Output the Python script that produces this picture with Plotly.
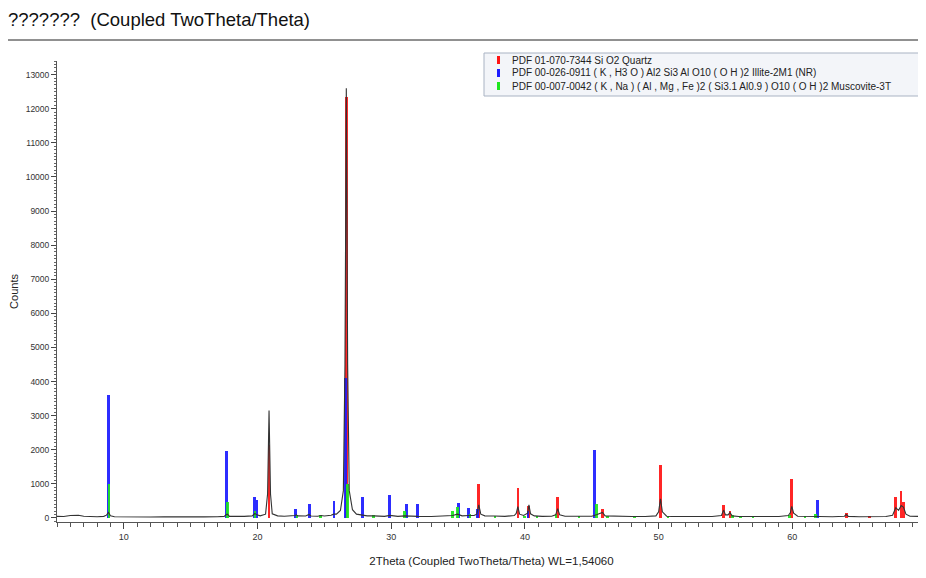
import plotly.graph_objects as go

# ---------------- data ----------------
scan_2theta = [5.0, 5.5, 6.0, 6.3, 6.6, 7.0, 7.5, 8.0, 8.5, 8.7, 8.85, 9.0, 9.3, 10.0, 11.0, 12.0,
               13.0, 14.0, 15.0, 16.0, 17.0, 17.5, 17.65, 17.75, 17.9, 18.5, 19.0, 19.6, 19.8,
               19.95, 20.2, 20.6, 20.75, 20.86, 20.97, 21.1, 21.5, 22.0, 22.5, 22.8, 22.9, 23.0,
               23.6, 23.85, 24.0, 24.5, 24.75, 25.0, 25.5, 25.7, 25.9, 26.2, 26.42, 26.54, 26.64,
               26.74, 26.86, 27.1, 27.4, 27.8, 28.2, 28.7, 29.2, 29.5, 29.9, 30.5, 31.0, 31.5,
               32.0, 33.0, 34.0, 34.6, 34.95, 35.3, 35.8, 36.2, 36.4, 36.55, 36.7, 37.0, 37.7,
               38.5, 39.2, 39.35, 39.47, 39.6, 39.9, 40.2, 40.3, 40.42, 40.7, 41.3, 42.0, 42.3,
               42.45, 42.6, 43.0, 44.0, 45.0, 45.35, 45.8, 46.0, 47.0, 48.0, 49.0, 49.8, 50.0,
               50.14, 50.28, 50.6, 51.0, 52.0, 53.0, 54.0, 54.7, 54.87, 55.0, 55.2, 55.33, 55.5,
               56.0, 57.0, 58.0, 59.0, 59.7, 59.85, 59.96, 60.1, 60.4, 61.0, 62.0, 63.0, 63.9,
               64.03, 64.2, 65.0, 66.0, 67.0, 67.5, 67.74, 67.95, 68.14, 68.31, 68.5, 68.8,
               69.5, 70.0]
scan_counts = [45, 40, 70, 85, 80, 50, 40, 35, 45, 80, 160, 60, 35, 30, 30, 25,
               30, 25, 30, 30, 35, 45, 90, 110, 45, 40, 45, 60, 130,
               90, 60, 110, 700, 3150, 700, 120, 60, 50, 50, 70, 90, 60,
               55, 100, 55, 50, 70, 55, 80, 110, 110, 220, 800, 4500, 12600,
               4500, 800, 240, 110, 80, 60, 60, 50, 45, 75, 45, 60, 45,
               45, 40, 45, 70, 110, 60, 70, 70, 110, 380, 110, 60, 55,
               45, 70, 130, 330, 110, 70, 140, 380, 120, 60, 45, 50, 90,
               270, 90, 50, 45, 50, 90, 160, 60, 40, 40, 40, 60, 180,
               560, 180, 50, 40, 35, 35, 40, 70, 230, 90, 90, 160, 60,
               40, 35, 35, 40, 70, 150, 340, 140, 50, 40, 40, 35, 50,
               100, 45, 35, 35, 40, 80, 300, 220, 360, 320, 110, 50,
               40, 40]

quartz_2theta = [20.86, 26.64, 36.54, 39.47, 40.29, 42.45, 45.79, 50.14, 54.87, 55.33,
                 59.96, 64.03, 65.79, 67.74, 68.14, 68.31]
quartz_counts = [2150, 12350, 980, 880, 340, 600, 270, 1560, 390, 200,
                 1130, 150, 40, 600, 800, 480]

illite_2theta = [8.85, 17.7, 19.78, 19.93, 22.85, 23.88, 25.72, 26.6, 27.83, 29.87,
                 31.15, 31.95, 35.05, 35.76, 36.44, 40.23, 45.2, 61.89]
illite_counts = [3600, 1950, 600, 530, 270, 420, 500, 4100, 620, 680,
                 420, 420, 430, 280, 270, 200, 2000, 540]

musc_2theta = [8.88, 17.77, 19.8, 22.95, 24.7, 26.72, 28.65, 30.97, 34.6, 34.95, 35.9,
               37.77, 39.95, 40.9, 42.32, 44.05, 45.36, 46.2, 48.2, 50.7, 55.53, 56.13,
               57.05, 59.77, 60.95, 61.74]
musc_counts = [1000, 480, 200, 100, 80, 1000, 100, 190, 200, 320, 110,
               70, 70, 60, 110, 50, 400, 70, 40, 40, 80, 40,
               40, 80, 60, 110]

legend_labels = [
    "PDF 01-070-7344 Si O2 Quartz",
    "PDF 00-026-0911 ( K , H3 O ) Al2 Si3 Al O10 ( O H )2 Illite-2M1 (NR)",
    "PDF 00-007-0042 ( K , Na ) ( Al , Mg , Fe )2 ( Si3.1 Al0.9 ) O10 ( O H )2 Muscovite-3T",
]
chart_title = "???????  (Coupled TwoTheta/Theta)"
x_title = "2Theta (Coupled TwoTheta/Theta) WL=1,54060"
y_title = "Counts"

# ---------------- styling ----------------
# the page body has an 8px margin: the figure starts at (8, 8) of the window
OFF = 8
WIN_W, WIN_H = 926, 578
W, H = WIN_W - OFF, WIN_H - OFF
# plot area in window pixels: x 57..926, y 61..522
PL, PR, PT, PB = 57, 926, 61, 522
L, R, T, B = PL - OFF, WIN_W - PR, PT - OFF, (WIN_H - PB)
PW, PH = W - L - R, H - T - B
FONT = "Liberation Sans, Arial, sans-serif"
RED, BLUE, GREEN = "#ff1414", "#1c1cff", "#1ee61e"


def px(xw):  # window x pixel -> paper
    return (xw - PL) / PW


def py(yw):  # window y pixel -> paper
    return (PB - yw) / PH


fig = go.Figure()
for xs, ys, col in [(quartz_2theta, quartz_counts, RED),
                    (illite_2theta, illite_counts, BLUE),
                    (musc_2theta, musc_counts, GREEN)]:
    fig.add_trace(go.Bar(x=xs, y=ys, width=0.2, marker=dict(color=col, line=dict(width=0)),
                         opacity=0.92, showlegend=False, hoverinfo="x+y"))

fig.add_trace(go.Scatter(x=scan_2theta, y=scan_counts, mode="lines",
                         line=dict(color="#333333", width=1.1), showlegend=False))

shapes = [
    # title underline
    dict(type="line", xref="paper", yref="paper", x0=px(OFF), x1=px(WIN_W), y0=py(40), y1=py(40),
         line=dict(color="#222", width=1)),
    # legend box
    dict(type="rect", xref="paper", yref="paper", x0=px(484), x1=px(920), y0=py(53), y1=py(96),
         fillcolor="#f3f5f9", line=dict(color="#a9b3c3", width=1)),
]
annotations = []
for i, (lab, col) in enumerate(zip(legend_labels, [RED, BLUE, GREEN])):
    yc = 60 + i * 13
    shapes.append(dict(type="rect", xref="paper", yref="paper", x0=px(497), x1=px(500),
                       y0=py(yc + 4), y1=py(yc - 4), fillcolor=col, line=dict(width=0)))
    annotations.append(dict(text=lab, xref="paper", yref="paper", x=px(510), y=py(yc),
                            xanchor="left", yanchor="middle", showarrow=False,
                            font=dict(family=FONT, size=10, color="#222")))

fig.update_layout(
    width=W, height=H,
    margin=dict(l=L, r=R, t=T, b=B, pad=0, autoexpand=False),
    paper_bgcolor="white", plot_bgcolor="white",
    barmode="overlay", bargap=0,
    font=dict(family=FONT, color="#333"),
    title=dict(text=chart_title, xref="container", yref="container", x=0, y=1 - (20 - OFF) / H,
               xanchor="left", yanchor="middle", font=dict(family=FONT, size=18.5, color="#111")),
    shapes=shapes, annotations=annotations,
    xaxis=dict(range=[5, 70], tick0=0, dtick=10, ticks="outside", ticklen=6, tickwidth=1,
               tickcolor="#444", showline=True, linecolor="#555", linewidth=1,
               showgrid=False, zeroline=False, automargin=False,
               tickfont=dict(family=FONT, size=9, color="#333"),
               minor=dict(dtick=1, tick0=0, ticks="outside", ticklen=3.5, tickcolor="#555"),
               title=dict(text=x_title, font=dict(family=FONT, size=11.5, color="#222"),
                          standoff=16)),
    yaxis=dict(range=[-120, 13400], tick0=0, dtick=1000, ticks="outside", ticklen=5,
               tickwidth=1, tickcolor="#444", showline=True, linecolor="#555", linewidth=1,
               showgrid=False, zeroline=False, automargin=False, tickformat="d",
               tickfont=dict(family=FONT, size=8.5, color="#333"),
               minor=dict(dtick=100, tick0=0, ticks="outside", ticklen=2.5, tickcolor="#666"),
               title=dict(text=y_title, font=dict(family=FONT, size=11, color="#222"),
                          standoff=8)),
)

fig.write_html("out.html")
